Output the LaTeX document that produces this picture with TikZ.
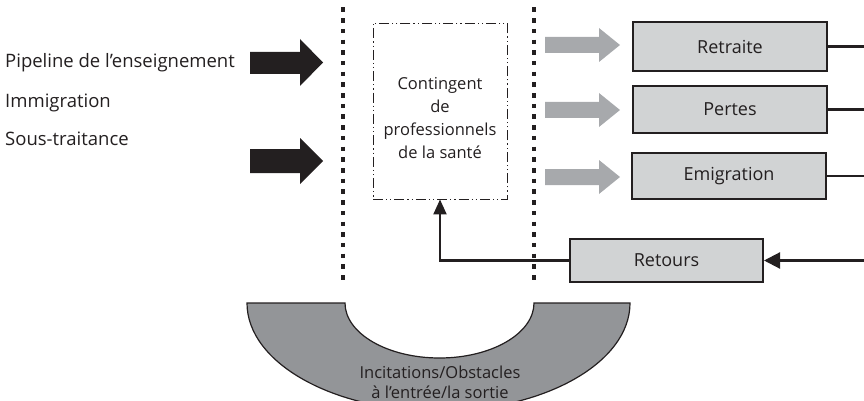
\documentclass[tikz,border=0pt]{standalone}
\usepackage{fontspec}
\setmainfont{Open Sans}
\usetikzlibrary{arrows.meta}
\definecolor{ink}{HTML}{231F20}
\definecolor{boxfill}{HTML}{D1D3D4}
\definecolor{arrgray}{HTML}{A7A9AC}
\definecolor{arcgray}{HTML}{939598}
\begin{document}
\begin{tikzpicture}[x=1pt,y=-1pt, text=ink,
  font=\fontsize{18}{23}\selectfont,
  lossbox/.style={draw=ink, line width=2pt, fill=boxfill, minimum width=194pt,
    minimum height=48pt, inner sep=0pt},
  conn/.style={draw=ink, line width=2.2pt},
  sepline/.style={draw=ink, line width=4.5pt, dash pattern=on 4.5pt off 6.2pt},
  blackarrow/.style={fill=ink},
  grayarrow/.style={fill=arrgray},
  pooltext/.style={align=center, inner sep=0pt},
]
\useasboundingbox (0,0) rectangle (864,401);

% incitations / obstacles arc
\path[fill=arcgray, draw=ink, line width=1.2pt] (247,303)
  arc[start angle=180, end angle=360, x radius=191.5pt, y radius=108pt]
  -- (534,303)
  arc[start angle=0, end angle=-180, x radius=94.5pt, y radius=55pt]
  -- cycle;
\node[pooltext, font=\fontsize{16.5}{20}\selectfont] (arclabel) at (440,382)
  {Incitations/Obstacles\\à l’entrée/la sortie};

% inflow labels
\node[anchor=base west, inner sep=0pt, font=\fontsize{18.5}{23}\selectfont] (pipe) at (5,68) {Pipeline de l’enseignement};
\node[anchor=base west, inner sep=0pt, font=\fontsize{18.5}{23}\selectfont] (immi) at (5,107) {Immigration};
\node[anchor=base west, inner sep=0pt, font=\fontsize{18.5}{23}\selectfont] (sous) at (5,146) {Sous-traitance};

% black inflow arrows
\path[blackarrow] (250,52) -- (300,52) -- (300,39) -- (323,62.5) -- (300,86) -- (300,74) -- (250,74) -- cycle;
\path[blackarrow] (250,149) -- (300,149) -- (300,138) -- (323,161) -- (300,184) -- (300,173) -- (250,173) -- cycle;

% dotted separators
\draw[sepline] (343,7.5) -- (343,280);
\draw[sepline] (534,7.5) -- (534,280);

% contingent box
\node[draw=ink, line width=0.9pt,
  dash pattern=on 10pt off 3pt on 1.2pt off 3pt on 1.2pt off 3pt,
  minimum width=134pt, minimum height=176pt, inner sep=0pt] (cont) at (440,111) {};
\node[pooltext, font=\fontsize{16.5}{23}\selectfont] (contlabel) at (440,118) {Contingent\\de\\professionnels\\de la santé};

% gray outflow arrows
\path[grayarrow] (545,37) -- (599,37) -- (599,28) -- (620,45) -- (599,62) -- (599,53) -- (545,53) -- cycle;
\path[grayarrow] (545,102) -- (599,102) -- (599,93) -- (620,110) -- (599,127) -- (599,118) -- (545,118) -- cycle;
\path[grayarrow] (545,169) -- (599,169) -- (599,160) -- (620,177) -- (599,194) -- (599,185) -- (545,185) -- cycle;

% outflow boxes
\node[lossbox, minimum height=49pt] (ret) at (730,46.5) {Retraite};
\node[lossbox, minimum height=47pt] (per) at (730,109.5) {Pertes};
\node[lossbox, minimum height=46pt] (emi) at (729,176) {Emigration};
\node[lossbox, minimum width=193pt, minimum height=43pt] (rtr) at (666.5,260.5) {Retours};

\coordinate (o1) at (864,46.5);
\coordinate (o2) at (864,109.5);
\coordinate (o3) at (864,176);
\coordinate (i1) at (864,260.5);
\draw[conn] (ret.east) -- (o1);
\draw[conn] (per.east) -- (o2);
\draw[conn] (emi.east) -- (o3);
\draw[conn, -{Triangle[length=16pt, width=16pt]}] (i1) -- (rtr.east);
\draw[conn, -{Triangle[length=15pt, width=13pt]}] (rtr.west) -| (cont.south);
\end{tikzpicture}
\end{document}
